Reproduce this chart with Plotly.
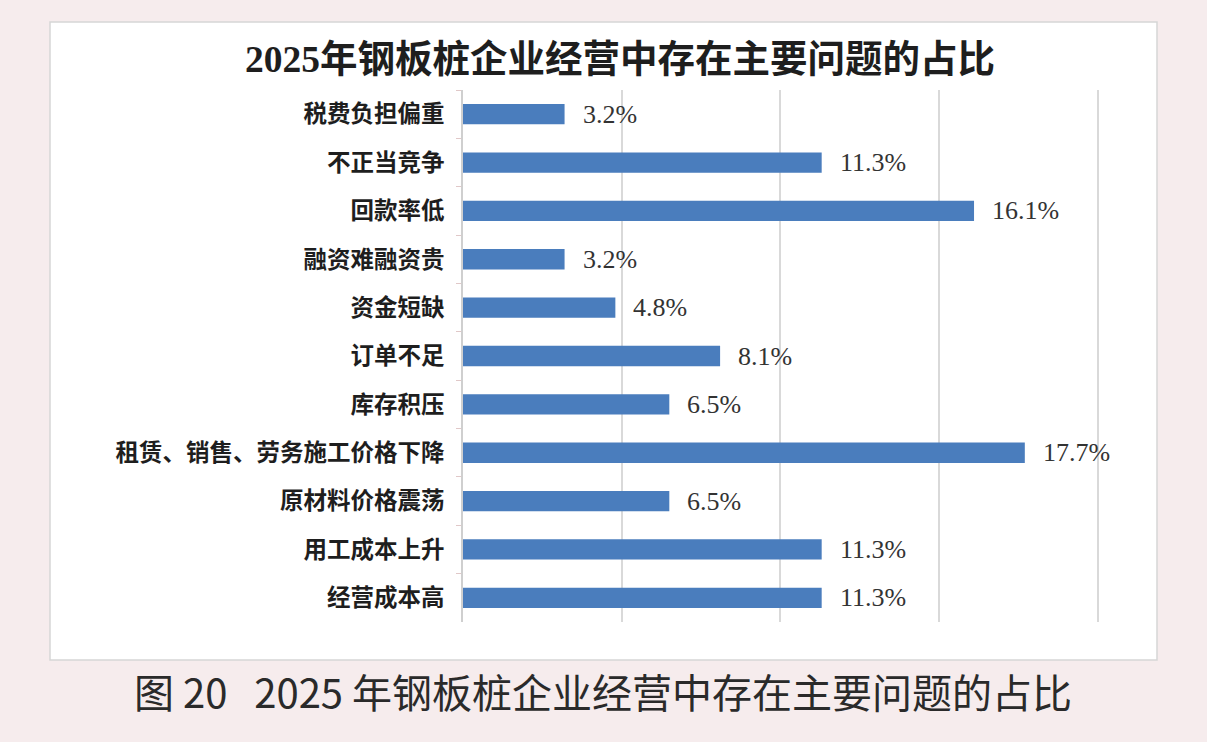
import plotly.graph_objects as go

categories = ["税费负担偏重", "不正当竞争", "回款率低", "融资难融资贵", "资金短缺", "订单不足",
              "库存积压", "租赁、销售、劳务施工价格下降", "原材料价格震荡", "用工成本上升", "经营成本高"]
values = [3.2, 11.3, 16.1, 3.2, 4.8, 8.1, 6.5, 17.7, 6.5, 11.3, 11.3]
value_labels = [f"{v:.1f}%" for v in values]
x_ticks = [0, 5, 10, 15, 20]

title_text = "2025年钢板桩企业经营中存在主要问题的占比"
caption_text = "图 20   2025 年钢板桩企业经营中存在主要问题的占比"

SERIF = "Liberation Serif, Noto Sans CJK SC, serif"
SANS = "Noto Sans CJK SC, Noto Sans, sans-serif"

PL, PR, PT, PB = 463, 1101, 90, 622   # plot area in pixels
W, H = 1207, 742
pw, ph = PR - PL, PB - PT

def px(x):
    return (x - PL) / pw

def py(y):
    return (PB - y) / ph

fig = go.Figure()
fig.add_trace(go.Bar(
    x=values, y=categories, orientation="h",
    marker=dict(color="#4a7dbd", line=dict(width=0)),
    hoverinfo="x+y",
))

for v, c, t in zip(values, categories, value_labels):
    fig.add_annotation(x=v, y=c, text=t, xref="x", yref="y", showarrow=False,
                       xanchor="left", xshift=16,
                       font=dict(family=SERIF, size=26, color="#333333"))

fig.update_layout(
    width=W, height=H,
    margin=dict(l=PL, r=W - PR, t=PT, b=H - PB),
    paper_bgcolor="#f6eced",
    plot_bgcolor="white",
    showlegend=False,
    bargap=0.58,
    xaxis=dict(range=[0, 20.1], tickvals=x_ticks, showticklabels=False,
               showgrid=True, gridcolor="#d9d9d9", gridwidth=1.5,
               zeroline=False, showline=False, fixedrange=True),
    yaxis=dict(autorange="reversed", showline=True, linecolor="#cfcfcf", linewidth=1.5,
               ticks="outside", tickson="boundaries", ticklen=5, tickcolor="#e0c8c8",
               ticklabelstandoff=12,
               tickfont=dict(family=SERIF, size=23.5, color="#1e1e1e", weight="bold"),
               showgrid=False, zeroline=False, fixedrange=True),
    shapes=[dict(type="rect", xref="paper", yref="paper", layer="below",
                 x0=px(50), x1=px(1157), y0=py(660), y1=py(22),
                 fillcolor="white", line=dict(color="#d6d6d6", width=1.5))],
)

fig.add_annotation(text=title_text, xref="paper", yref="paper",
                   x=px(620), y=py(60), xanchor="center", yanchor="middle",
                   showarrow=False, font=dict(family=SERIF, size=37.5, color="#1e1e1e", weight="bold"))
fig.add_annotation(text=caption_text, xref="paper", yref="paper",
                   x=px(603), y=py(691), xanchor="center", yanchor="middle",
                   showarrow=False, font=dict(family=SANS, size=40, color="#2a2a2a"))

fig.write_html("out.html")
